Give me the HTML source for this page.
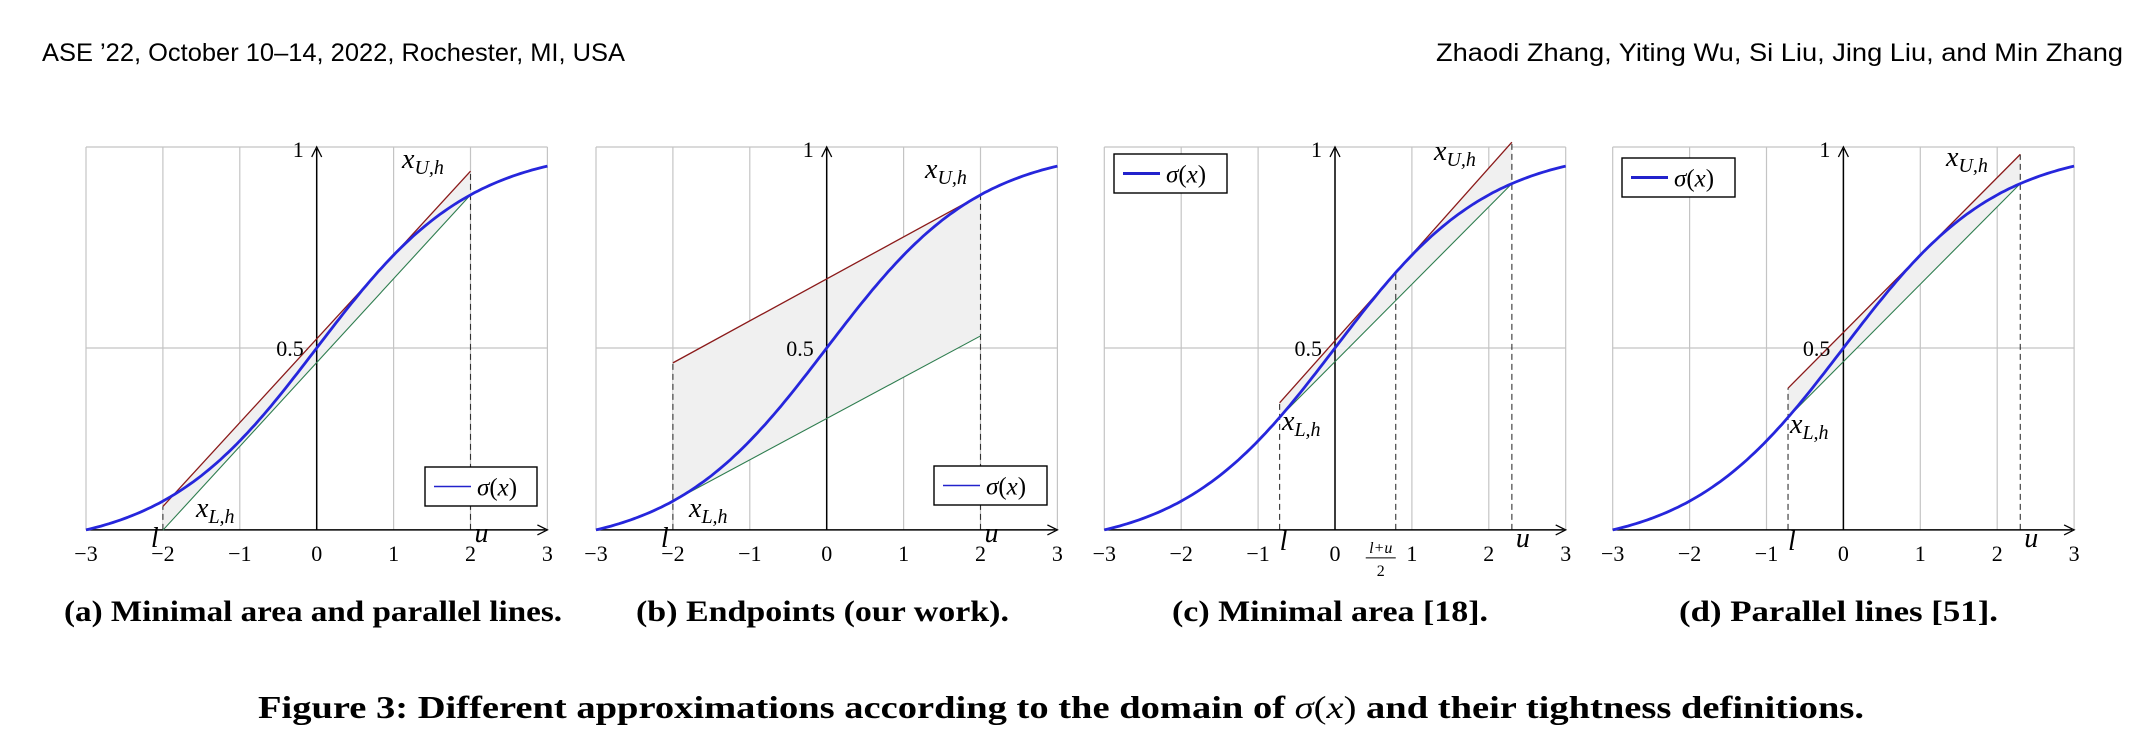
<!DOCTYPE html>
<html><head><meta charset="utf-8"><style>
body{margin:0;background:#fff;width:2140px;height:740px;overflow:hidden}
svg{display:block}
</style></head><body>
<svg id="s" width="2140" height="740" xmlns="http://www.w3.org/2000/svg">
<text x="42" y="61" textLength="583" lengthAdjust="spacingAndGlyphs" font-family="Liberation Sans, sans-serif" font-size="25">ASE ’22, October 10–14, 2022, Rochester, MI, USA</text>
<text x="1436" y="61" textLength="687" lengthAdjust="spacingAndGlyphs" font-family="Liberation Sans, sans-serif" font-size="25">Zhaodi Zhang, Yiting Wu, Si Liu, Jing Liu, and Min Zhang</text>
<g font-family="Liberation Serif, serif" font-weight="bold" font-size="30">
<text x="64" y="621" textLength="498" lengthAdjust="spacingAndGlyphs">(a) Minimal area and parallel lines.</text>
<text x="636" y="621" textLength="373" lengthAdjust="spacingAndGlyphs">(b) Endpoints (our work).</text>
<text x="1172" y="621" textLength="316" lengthAdjust="spacingAndGlyphs">(c) Minimal area [18].</text>
<text x="1679" y="621" textLength="319" lengthAdjust="spacingAndGlyphs">(d) Parallel lines [51].</text>
<text x="258" y="718" font-size="32" textLength="1606" lengthAdjust="spacingAndGlyphs">Figure 3: Different approximations according to the domain of <tspan font-style="italic" font-weight="normal">σ</tspan><tspan font-weight="normal">(</tspan><tspan font-style="italic" font-weight="normal">x</tspan><tspan font-weight="normal">)</tspan> and their tightness definitions.</text>
</g>
<g id="plots"></g>
</svg>
<script>
const sg=x=>1/(1+Math.exp(-x));
const G=document.getElementById('plots');
let h='';
function panel(x0,cfg){
 const ux=76.9, X=x=>x0+(x+3)*ux, Y=v=>549-402*v;
 const ya=Y(sg(-3));
 for(let i=-3;i<=3;i++) h+=`<line x1="${X(i)}" y1="${Y(1)}" x2="${X(i)}" y2="${ya}" stroke="#c4c4c4" stroke-width="1.2"/>`;
 h+=`<line x1="${X(-3)}" y1="${Y(1)}" x2="${X(3)}" y2="${Y(1)}" stroke="#c4c4c4" stroke-width="1.2"/>`;
 h+=`<line x1="${X(-3)}" y1="${Y(.5)}" x2="${X(3)}" y2="${Y(.5)}" stroke="#c4c4c4" stroke-width="1.2"/>`;
 const {l,u,r,g}=cfg;
 h+=`<polygon points="${X(l)},${Y(r(l))} ${X(u)},${Y(r(u))} ${X(u)},${Y(g(u))} ${X(l)},${Y(g(l))}" fill="#f0f0f0"/>`;
 h+=`<line x1="${X(l)}" y1="${ya}" x2="${X(l)}" y2="${Y(r(l))}" stroke="#333" stroke-dasharray="6,4" stroke-width="1.1"/>`;
 h+=`<line x1="${X(u)}" y1="${ya}" x2="${X(u)}" y2="${Y(Math.max(r(u),g(u)))}" stroke="#333" stroke-dasharray="6,4" stroke-width="1.1"/>`;
 if(cfg.m!==undefined) h+=`<line x1="${X(cfg.m)}" y1="${ya}" x2="${X(cfg.m)}" y2="${Y(sg(cfg.m))}" stroke="#333" stroke-dasharray="6,4" stroke-width="1.1"/>`;
 h+=`<line x1="${X(-3)}" y1="${ya}" x2="${X(3)-2}" y2="${ya}" stroke="#000" stroke-width="1.5"/>`;
 h+=`<path d="M${X(3)-10},${ya-5} L${X(3)},${ya} L${X(3)-10},${ya+5}" fill="none" stroke="#000" stroke-width="1.3"/>`;
 h+=`<line x1="${X(0)}" y1="${ya}" x2="${X(0)}" y2="${Y(1)+2}" stroke="#000" stroke-width="1.5"/>`;
 h+=`<path d="M${X(0)-5},${Y(1)+10} L${X(0)},${Y(1)} L${X(0)+5},${Y(1)+10}" fill="none" stroke="#000" stroke-width="1.3"/>`;
 h+=`<line x1="${X(l)}" y1="${Y(r(l))}" x2="${X(u)}" y2="${Y(r(u))}" stroke="#8b1a1a" stroke-width="1.3"/>`;
 h+=`<line x1="${X(l)}" y1="${Y(g(l))}" x2="${X(u)}" y2="${Y(g(u))}" stroke="#2e7d4f" stroke-width="1.1"/>`;
 let d='';
 for(let i=0;i<=120;i++){const x=-3+i*0.05;d+=(i?'L':'M')+X(x).toFixed(1)+','+Y(sg(x)).toFixed(1);}
 h+=`<path d="${d}" fill="none" stroke="#2626dc" stroke-width="2.8"/>`;
 for(let i=-3;i<=3;i++){
  const t=i<0?'−'+(-i):''+i;
  h+=`<text x="${X(i)}" y="${ya+31}" text-anchor="middle" font-family="Liberation Serif, serif" font-size="22">${t}</text>`;
 }
 h+=`<text x="${X(0)-13}" y="${Y(1)+10}" text-anchor="end" font-family="Liberation Serif, serif" font-size="22">1</text>`;
 h+=`<text x="${X(0)-13}" y="${Y(.5)+8}" text-anchor="end" font-family="Liberation Serif, serif" font-size="22">0.5</text>`;
 const it='font-family="Liberation Serif, serif" font-style="italic"';
 h+=`<text x="${cfg.ux}" y="${cfg.uy}" ${it} font-size="28">x<tspan font-size="20" dy="6">U,h</tspan></text>`;
 h+=`<text x="${cfg.lx}" y="${cfg.ly}" ${it} font-size="28">x<tspan font-size="20" dy="6">L,h</tspan></text>`;
 h+=`<text x="${X(l)-(cfg.top?0:12)}" y="${ya+(cfg.top?20:17)}" ${it} font-size="28">l</text>`;
 h+=`<text x="${X(u)+4}" y="${ya+(cfg.top?17:12)}" ${it} font-size="28">u</text>`;
 if(cfg.m!==undefined){
  h+=`<text x="${X(cfg.m)-15}" y="${ya+23}" text-anchor="middle" ${it} font-size="16">l+u</text>`;
  h+=`<line x1="${X(cfg.m)-30}" y1="${ya+28}" x2="${X(cfg.m)}" y2="${ya+28}" stroke="#000" stroke-width="1"/>`;
  h+=`<text x="${X(cfg.m)-15}" y="${ya+46}" text-anchor="middle" font-family="Liberation Serif, serif" font-size="16">2</text>`;
 }
 const [bx,by,bw,bh,th]=cfg.leg;
 h+=`<rect x="${bx}" y="${by}" width="${bw}" height="${bh}" fill="#fff" stroke="#000" stroke-width="1.4"/>`;
 h+=`<line x1="${bx+9}" y1="${by+bh/2}" x2="${bx+46}" y2="${by+bh/2}" stroke="#2222cc" stroke-width="${th}"/>`;
 h+=`<text x="${bx+52}" y="${by+bh/2+9}" font-family="Liberation Serif, serif" font-size="25"><tspan font-style="italic">σ</tspan>(<tspan font-style="italic">x</tspan>)</text>`;
}
const sa=0.2085;
panel(86,{l:-2,u:2,r:x=>0.7+sa*(x-0.85),g:x=>sg(2)+sa*(x-2),ux:402,uy:168,lx:196,ly:517,leg:[425,467,112,39,1.6]});
panel(596,{l:-2,u:2,r:x=>0.463+(sg(2)-0.463)*(x+2)/4,g:x=>sg(-2)+(0.53-sg(-2))*(x+2)/4,ux:925,uy:178,lx:689,ly:517,leg:[934,466,113,39,1.6]});
const l=-0.72,u=2.3,m=(l+u)/2,sm=sg(m)*(1-sg(m));
panel(1104.3,{l,u,m,r:x=>sg(m)+sm*(x-m),g:x=>sg(l)+(sg(u)-sg(l))*(x-l)/(u-l),ux:1434,uy:160,lx:1282,ly:430,top:1,leg:[1114,154,113,39,3]});
const sd=(sg(u)-sg(l))/(u-l);
panel(1612.7,{l,u,r:x=>0.739+sd*(x-1.04),g:x=>sg(l)+sd*(x-l),ux:1946,uy:166,lx:1790,ly:433,top:1,leg:[1622,158,113,39,3]});
G.innerHTML=h;
</script>
</body></html>
